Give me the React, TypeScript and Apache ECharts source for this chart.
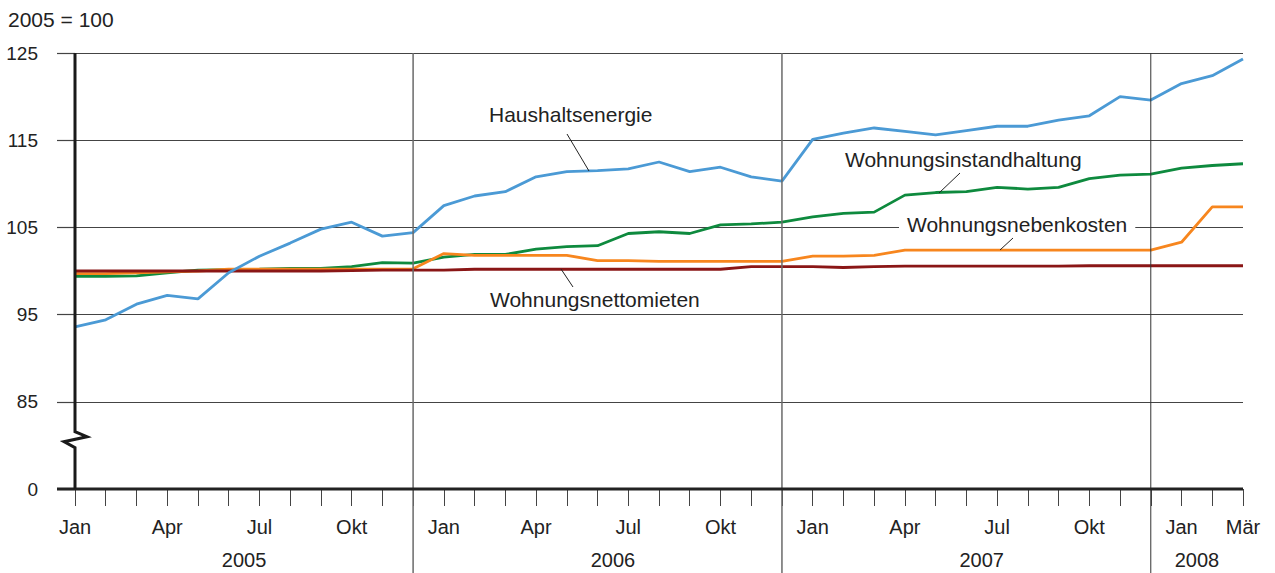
import React, { useEffect, useRef } from "react";
import * as echarts from "echarts";

const monthNames = ["Jan", "Feb", "Mär", "Apr", "Mai", "Jun", "Jul", "Aug", "Sep", "Okt", "Nov", "Dez"];
const years = [2005, 2006, 2007, 2008];
const monthsPerYear = [12, 12, 12, 3];
const yearLabelCenters = [5.5, 17.5, 29.5, 36.5];
const yearDividers = [11, 23, 35];

const categories: string[] = [];
years.forEach((y, i) => {
  for (let m = 0; m < monthsPerYear[i]; m++) categories.push(monthNames[m] + " " + y);
});

const haushaltsenergie = [
  93.6, 94.4, 96.2, 97.2, 96.8, 99.8, 101.7, 103.2, 104.8, 105.6, 104.0, 104.4,
  107.5, 108.6, 109.1, 110.8, 111.4, 111.5, 111.7, 112.5, 111.4, 111.9, 110.8, 110.3,
  115.1, 115.8, 116.4, 116.0, 115.6, 116.1, 116.6, 116.6, 117.3, 117.8, 120.0, 119.6,
  121.5, 122.4, 124.3,
];
const instandhaltung = [
  99.4, 99.4, 99.45, 99.8, 100.1, 100.15, 100.2, 100.3, 100.3, 100.5, 100.95, 100.9,
  101.6, 101.9, 101.9, 102.5, 102.8, 102.9, 104.3, 104.5, 104.3, 105.3, 105.4, 105.6,
  106.2, 106.6, 106.75, 108.7, 109.0, 109.1, 109.6, 109.4, 109.6, 110.6, 111.0, 111.1,
  111.8, 112.1, 112.3,
];
const nebenkosten = [
  99.7, 99.7, 99.8, 99.9, 100.0, 100.2, 100.2, 100.2, 100.2, 100.2, 100.2, 100.25,
  102.0, 101.8, 101.8, 101.8, 101.8, 101.2, 101.2, 101.1, 101.1, 101.1, 101.1, 101.1,
  101.7, 101.7, 101.8, 102.4, 102.4, 102.4, 102.4, 102.4, 102.4, 102.4, 102.4, 102.4,
  103.3, 107.35, 107.35,
];
const nettomieten = [
  100.0, 100.0, 100.0, 100.0, 100.0, 100.0, 100.0, 100.0, 100.0, 100.05, 100.1, 100.1,
  100.1, 100.2, 100.2, 100.2, 100.2, 100.2, 100.2, 100.2, 100.2, 100.2, 100.5, 100.5,
  100.5, 100.4, 100.5, 100.55, 100.55, 100.55, 100.55, 100.55, 100.55, 100.6, 100.6, 100.6,
  100.6, 100.6, 100.6,
];

const yTicks = [75, 85, 95, 105, 115, 125];
const yTickLabels = ["0", "85", "95", "105", "115", "125"];

const FONT = "'Liberation Sans', Arial, Helvetica, sans-serif";
const TXT = "#222";

export default function App() {
  const ref = useRef<HTMLDivElement>(null);
  useEffect(() => {
    if (!ref.current) return;
    const chart = echarts.init(ref.current, null, { renderer: "svg" });
    const mkLine = (name: string, data: number[], color: string) => ({
      name,
      type: "line",
      data,
      symbol: "none",
      lineStyle: { color, width: 2.8 },
      itemStyle: { color },
    });
    chart.setOption({
      animation: false,
      backgroundColor: "#fff",
      grid: { left: 75, right: 32, top: 53, bottom: 84, containLabel: false },
      xAxis: {
        type: "category",
        data: categories,
        boundaryGap: false,
        axisLine: { show: false },
        axisTick: { show: true, interval: 0, length: 17, lineStyle: { color: "#444", width: 1 } },
        axisLabel: {
          interval: (idx: number) => idx % 3 === 0 || idx === categories.length - 1,
          formatter: (v: string) => v.split(" ")[0],
          margin: 28,
          fontSize: 20,
          color: TXT,
          fontFamily: FONT,
        },
        splitLine: { show: false },
      },
      yAxis: {
        type: "value",
        min: 75,
        max: 125,
        interval: 10,
        axisLine: { show: false },
        axisTick: { show: true, length: 18, lineStyle: { color: "#444", width: 1.2 } },
        axisLabel: {
          margin: 37,
          fontSize: 19,
          color: TXT,
          fontFamily: FONT,
          formatter: (v: number) => {
            const i = yTicks.indexOf(v);
            return i >= 0 ? yTickLabels[i] : "";
          },
        },
        splitLine: { show: true, lineStyle: { color: "#444", width: 1.2 } },
      },
      series: [
        mkLine("Wohnungsinstandhaltung", instandhaltung, "#0e8a3e"),
        mkLine("Wohnungsnebenkosten", nebenkosten, "#f7861e"),
        mkLine("Wohnungsnettomieten", nettomieten, "#8a1616"),
        mkLine("Haushaltsenergie", haushaltsenergie, "#4b9ad5"),
      ],
    });

    const p = (i: number, v: number) => chart.convertToPixel({ gridIndex: 0 }, [i, v]) as number[];
    const x0 = p(0, 75)[0];
    const x1 = p(1, 75)[0];
    const step = x1 - x0;
    const xAt = (i: number) => x0 + i * step;
    const yTop = p(0, 125)[1];
    const yBot = p(0, 75)[1];
    const xEnd = xAt(categories.length - 1);

    const graphics: any[] = [];
    graphics.push({
      type: "text",
      x: 8,
      y: 19,
      style: { text: "2005 = 100", font: `21px ${FONT}`, fill: TXT, textVerticalAlign: "middle" },
    });
    yearDividers.forEach((idx, k) => {
      const x = xAt(idx);
      graphics.push({
        type: "line",
        shape: { x1: x, y1: yTop, x2: x, y2: 573 },
        style: { stroke: k < 2 ? "#6a6a6a" : "#333", lineWidth: k < 2 ? 1.5 : 1 },
        z: 5,
      });
    });
    years.forEach((yr, i) => {
      graphics.push({
        type: "text",
        x: xAt(yearLabelCenters[i]),
        y: 560,
        style: { text: String(yr), font: `20px ${FONT}`, fill: TXT, textAlign: "center", textVerticalAlign: "middle" },
      });
    });
    graphics.push({
      type: "line",
      shape: { x1: x0 - 18, y1: yBot, x2: xEnd, y2: yBot },
      style: { stroke: "#222", lineWidth: 3 },
      z: 10,
    });
    const yb = p(0, 81)[1];
    graphics.push({
      type: "polyline",
      shape: {
        points: [
          [x0, yTop],
          [x0, yb - 5],
          [x0 + 12, yb],
          [x0 - 11, yb + 5],
          [x0, yb + 11],
          [x0, yBot],
        ],
      },
      style: { stroke: "#1a1a1a", lineWidth: 3, fill: "none" },
      z: 10,
    });
    const ann = (text: string, x: number, y: number, bg?: boolean) => ({
      type: "text",
      x,
      y,
      z: 20,
      style: {
        text,
        font: `21px ${FONT}`,
        fill: TXT,
        textVerticalAlign: "middle",
        backgroundColor: bg ? "#fff" : undefined,
        padding: bg ? [3, 8, 3, 8] : 0,
      },
    });
    const leader = (a: number[], b: number[]) => ({
      type: "line",
      z: 20,
      shape: { x1: a[0], y1: a[1], x2: b[0], y2: b[1] },
      style: { stroke: "#222", lineWidth: 1 },
    });
    graphics.push(ann("Haushaltsenergie", 489, 114));
    graphics.push(leader([567, 134], [589, 171]));
    graphics.push(ann("Wohnungsinstandhaltung", 845, 159));
    graphics.push(leader([960, 173], [939, 193]));
    graphics.push(ann("Wohnungsnebenkosten", 899, 224, true));
    graphics.push(leader([1013, 238], [1000, 250]));
    graphics.push(ann("Wohnungsnettomieten", 490, 299.5));
    graphics.push(leader([561, 269], [573, 287]));

    chart.setOption({ graphic: graphics });

    return () => chart.dispose();
  }, []);
  return <div ref={ref} style={{ position: "fixed", left: 0, top: 0, width: 1275, height: 573 }} />;
}
